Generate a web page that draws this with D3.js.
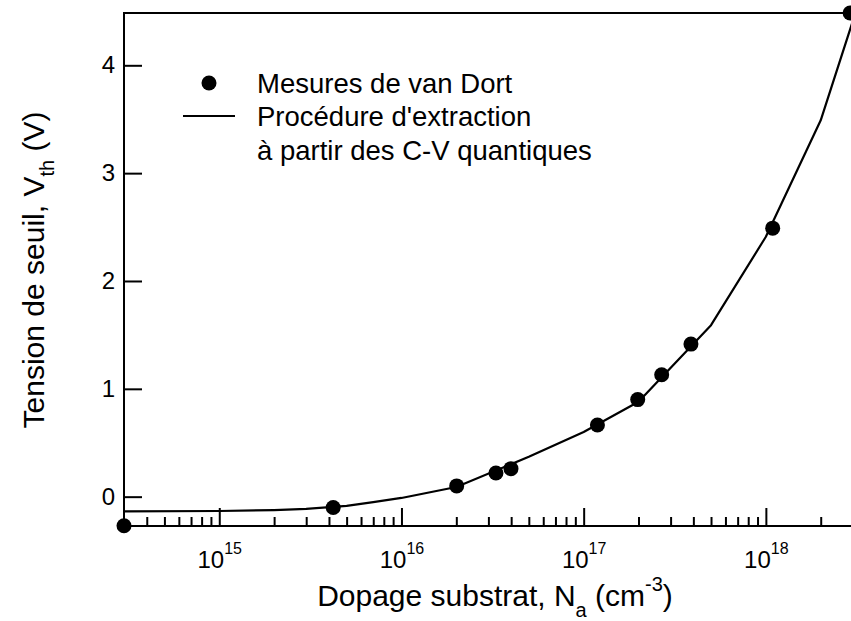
<!DOCTYPE html>
<html><head><meta charset="utf-8">
<script src="https://cdn.jsdelivr.net/npm/d3@7"></script>
<style>
html,body{margin:0;padding:0;background:#fff;}
svg{display:block;font-family:"Liberation Sans",Arial,Helvetica,sans-serif;}
</style></head>
<body>
<svg id="c" width="851" height="621"></svg>
<script>
// measured points (van Dort)
const measN = [3e14, 4.22e15, 2.01e16, 3.30e16, 3.99e16, 1.19e17, 1.98e17, 2.68e17, 3.88e17, 1.09e18, 2.9e18];
const measV = [-0.27, -0.10, 0.10, 0.22, 0.26, 0.665, 0.90, 1.13, 1.415, 2.49, 4.485];
// extraction procedure curve
const curveN = [3e14, 1e15, 2e15, 3e15, 5e15, 7e15, 1e16, 2e16, 5e16, 1e17, 2e17, 5e17, 1e18, 2e18, 3e18];
const curveV = [-0.137, -0.133, -0.124, -0.113, -0.085, -0.05, -0.012, 0.09, 0.37, 0.60, 0.88, 1.59, 2.41, 3.49, 4.41];
// ticks
const yTicks = [0, 1, 2, 3, 4];
const xMajor = [1e15, 1e16, 1e17, 1e18];
const xExp = ["15", "16", "17", "18"];
const xMinor = [4e14,5e14,6e14,7e14,8e14,9e14,
  2e15,3e15,4e15,5e15,6e15,7e15,8e15,9e15,
  2e16,3e16,4e16,5e16,6e16,7e16,8e16,9e16,
  2e17,3e17,4e17,5e17,6e17,7e17,8e17,9e17,
  2e18];
const legendLabels = ["Mesures de van Dort", "Procédure d'extraction", "à partir des C-V quantiques"];

const L = 124, T = 13, R = 852.8, B = 526;
const svg = d3.select("#c");
const x = d3.scaleLog().domain([3e14, 3e18]).range([L, R]);
const y = d3.scaleLinear().domain([-0.272, 4.485]).range([B, T]);

// frame
svg.append("rect").attr("x", L).attr("y", T).attr("width", R - L).attr("height", B - T)
  .attr("fill", "none").attr("stroke", "#000").attr("stroke-width", 2);

// y axis
const ya = svg.append("g").attr("transform", `translate(${L},0)`)
  .call(d3.axisLeft(y).tickValues(yTicks).tickSizeInner(-18).tickSizeOuter(0).tickPadding(9).tickFormat(d3.format("d")));
ya.select(".domain").remove();
ya.selectAll("line").attr("stroke-width", 2);
ya.selectAll("text").attr("font-size", 24).attr("font-family", "Liberation Sans, Arial, sans-serif").attr("fill", "#000");

// x minor
const xm = svg.append("g").attr("transform", `translate(0,${B})`)
  .call(d3.axisBottom(x).tickValues(xMinor).tickSizeInner(-9).tickSizeOuter(0).tickFormat(""));
xm.select(".domain").remove();
xm.selectAll("line").attr("stroke-width", 2);

// x major
const xa = svg.append("g").attr("transform", `translate(0,${B})`)
  .call(d3.axisBottom(x).tickValues(xMajor).tickSizeInner(-18).tickSizeOuter(0).tickPadding(0).tickFormat(""));
xa.select(".domain").remove();
xa.selectAll("line").attr("stroke-width", 2);
xa.selectAll("text").each(function(d, i) {
  const t = d3.select(this).attr("dy", null).attr("y", 42)
    .attr("font-size", 24).attr("font-family", "Liberation Sans, Arial, sans-serif").attr("fill", "#000")
    .attr("text-anchor", "middle");
  t.text(null);
  t.append("tspan").text("10");
  t.append("tspan").attr("font-size", 16).attr("dy", -14).text(xExp[i]);
});

// curve
const line = d3.line().x((d, i) => x(curveN[i])).y((d, i) => y(curveV[i]));
svg.append("path").datum(curveN).attr("d", line).attr("fill", "none")
  .attr("stroke", "#000").attr("stroke-width", 2.2).attr("stroke-linejoin", "round");

// points
svg.append("g").selectAll("circle").data(measN).join("circle")
  .attr("cx", d => x(d)).attr("cy", (d, i) => y(measV[i])).attr("r", 7.5).attr("fill", "#000");

// legend
const lg = svg.append("g").attr("font-size", 27.5).attr("fill", "#000");
lg.append("circle").attr("cx", 209).attr("cy", 83).attr("r", 7.5).attr("fill", "#000");
lg.append("line").attr("x1", 183).attr("x2", 235).attr("y1", 116).attr("y2", 116).attr("stroke", "#000").attr("stroke-width", 2);
lg.selectAll("text").data(legendLabels).join("text")
  .attr("x", 257).attr("y", (d, i) => 93 + i * 33.3).text(d => d);

// x title
const xt = svg.append("text").attr("x", 495).attr("y", 606).attr("text-anchor", "middle").attr("font-size", 30).attr("fill", "#000");
xt.append("tspan").text("Dopage substrat, N");
xt.append("tspan").attr("font-size", 20).attr("dy", 11).text("a");
xt.append("tspan").attr("dy", -11).text(" (cm");
xt.append("tspan").attr("font-size", 20).attr("dy", -15).text("-3");
xt.append("tspan").attr("dy", 15).text(")");

// y title
const yt = svg.append("text").attr("transform", "translate(44,270) rotate(-90)").attr("text-anchor", "middle").attr("font-size", 30).attr("fill", "#000");
yt.append("tspan").text("Tension de seuil, V");
yt.append("tspan").attr("font-size", 20).attr("dy", 10).text("th");
yt.append("tspan").attr("dy", -10).text(" (V)");
</script>
</body></html>
